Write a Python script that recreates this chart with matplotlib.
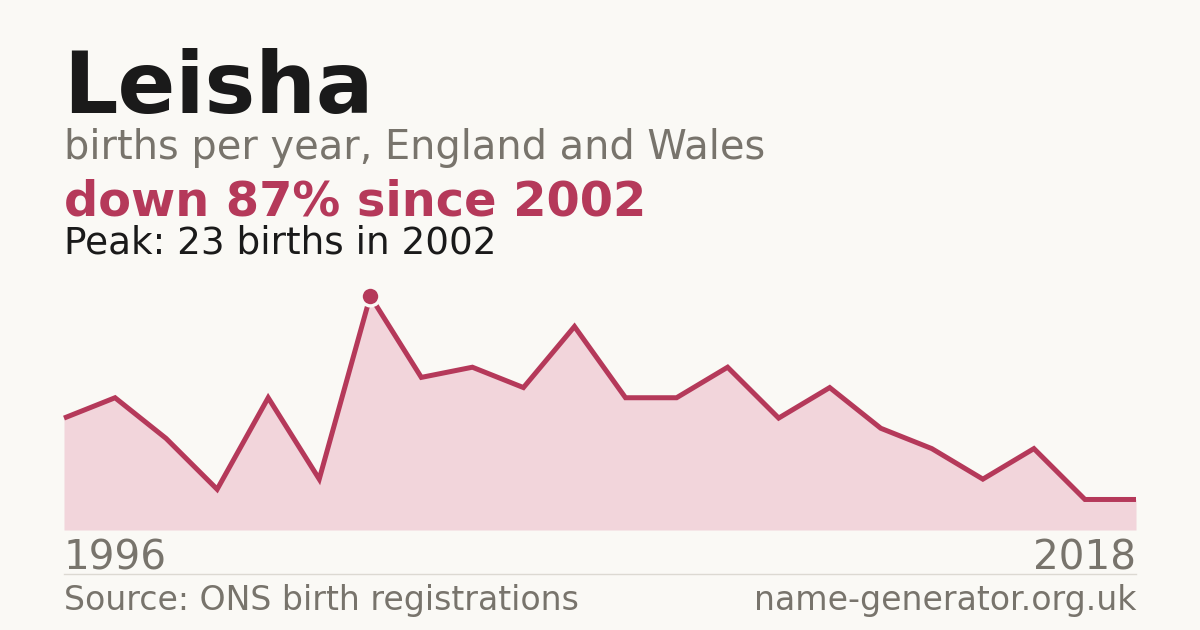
import matplotlib
matplotlib.use("Agg")
import matplotlib.pyplot as plt
import numpy as np

name = "Leisha"
subtitle = "births per year, England and Wales"
headline = "down 87% since 2002"
peak_text = "Peak: 23 births in 2002"
source = "Source: ONS birth registrations"
site = "name-generator.org.uk"
start_label = "1996"
end_label = "2018"
births = [11, 13, 9, 4, 13, 5, 23, 15, 16, 14, 20, 13, 13, 16, 11, 14, 10, 8, 5, 8, 3, 3]
peak_index = 6

BG = "#faf9f5"
RED = "#b5395a"
FILL = "#f2d5db"
GRAY = "#78746c"
DARK = "#1a1a1a"

W, H = 1200, 630
fig = plt.figure(figsize=(12, 6.3), dpi=100, facecolor=BG)

def fx(px):
    return px / W

def fy(py):
    return 1 - py / H

# axes: x 64..1136, y 530 (zero) .. 290
ax_top, ax_bot = 290, 530
ax = fig.add_axes([fx(64), fy(ax_bot), fx(1136) - fx(64), (ax_bot - ax_top) / H])
ax.set_facecolor("none")
x = np.arange(len(births))
ymax = 23 * (ax_bot - ax_top) / 234.0
ax.fill_between(x, births, 0, color=FILL, lw=0, zorder=1)
ax.plot(x, births, color=RED, lw=3.6, solid_joinstyle="miter", solid_capstyle="butt",
        zorder=2, clip_on=False)
ax.plot([x[peak_index]], [births[peak_index]], "o", ms=13.5, mfc=RED, mec=BG, mew=2.4,
        zorder=3, clip_on=False)
ax.set_xlim(0, len(births) - 1)
ax.set_ylim(0, ymax)
ax.axis("off")

# divider
fig.add_artist(plt.Line2D([fx(64), fx(1136)], [fy(574), fy(574)], color="#dcd9d2", lw=1))

fam = "DejaVu Sans"
fig.text(fx(63), fy(113), name, fontsize=61.5, fontweight="bold", color=DARK, family=fam, va="baseline")
fig.text(fx(64), fy(159), subtitle, fontsize=28.7, color=GRAY, family=fam, va="baseline")
fig.text(fx(64), fy(215), headline, fontsize=34.5, fontweight="bold", color=RED, family=fam, va="baseline")
fig.text(fx(64), fy(253), peak_text, fontsize=26.9, color=DARK, family=fam, va="baseline")
fig.text(fx(64), fy(570), start_label, fontsize=29.2, color=GRAY, family=fam, va="baseline")
fig.text(fx(1136), fy(570), end_label, fontsize=29.2, color=GRAY, family=fam, va="baseline", ha="right")
fig.text(fx(64), fy(610), source, fontsize=23.9, color=GRAY, family=fam, va="baseline")
fig.text(fx(1136), fy(610), site, fontsize=23.9, color=GRAY, family=fam, va="baseline", ha="right")

fig.savefig("out.png", dpi=100, facecolor=BG)
